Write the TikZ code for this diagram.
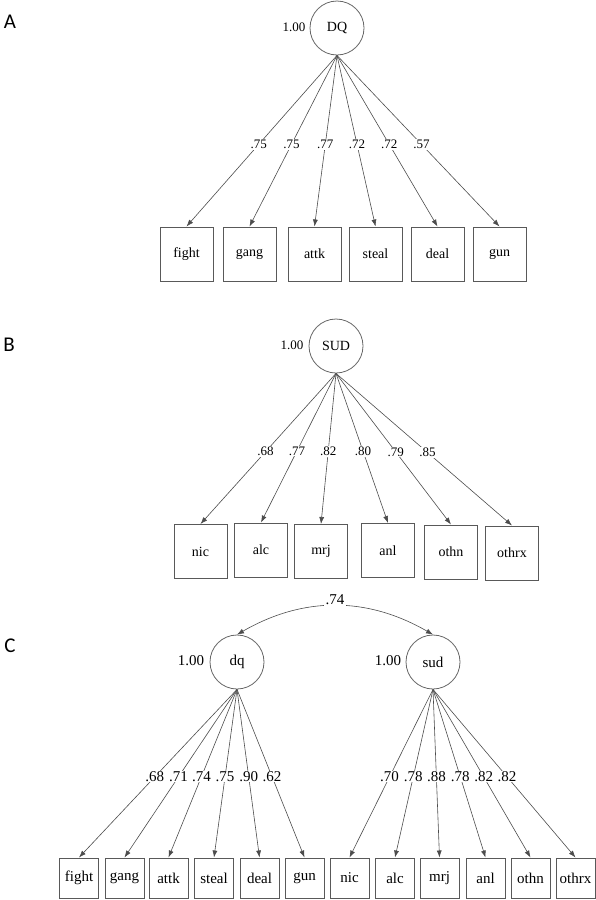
\documentclass[tikz,border=0pt]{standalone}
\usepackage{fontspec}
\setmainfont{Liberation Serif}
\newfontfamily\panelfont{Carlito}
\usetikzlibrary{arrows.meta}

\begin{document}
\begin{tikzpicture}[x=1pt,y=-1pt,
    latent/.style={circle,draw=black!60,line width=0.8pt,minimum size=54pt,inner sep=0pt,font=\fontsize{14}{16}\selectfont},
    obs/.style={draw=black!65,line width=1pt,minimum width=53pt,minimum height=54pt,inner sep=0pt,font=\fontsize{14}{16}\selectfont},
    obsc/.style={obs,minimum width=39pt,minimum height=40pt,font=\fontsize{15}{17}\selectfont},
    load/.style={draw=black!70,line width=0.6pt,-{Latex[length=7pt,width=5pt]}},
    wt/.style={pos=0.52,fill=white,inner sep=1pt,font=\fontsize{13}{15}\selectfont},
    wtc/.style={wt,inner sep=0.5pt,font=\fontsize{15}{17}\selectfont},
    panel/.style={font=\panelfont\fontsize{21}{23}\selectfont}]
  \useasboundingbox (0,0) rectangle (596,900);

  % A
  \node[panel] (pa) at (10,22) {A};
  \node[latent] (DQ) at (337,28) {DQ};
  \node[font=\fontsize{13}{15}\selectfont] (DQvar) at (294,27) {1.00};

  \node[obs] (afight) at (186.5,254) {fight};
  \node[obs] (agang) at (249.5,254) {gang};
  \node[obs] (aattk) at (314.5,254) {attk};
  \node[obs] (asteal) at (375.5,254) {steal};
  \node[obs] (adeal) at (437.5,254) {deal};
  \node[obs] (agun) at (499.5,254) {gun};

  \draw[load] (DQ.south) -- node[wt] {.75} (afight.north);
  \draw[load] (DQ.south) -- node[wt] {.75} (agang.north);
  \draw[load] (DQ.south) -- node[wt] {.77} (aattk.north);
  \draw[load] (DQ.south) -- node[wt] {.72} (asteal.north);
  \draw[load] (DQ.south) -- node[wt] {.72} (adeal.north);
  \draw[load] (DQ.south) -- node[wt] {.57} (agun.north);

  % B
  \node[panel] (pb) at (9,345) {B};
  \node[latent] (SUD) at (336,346) {SUD};
  \node[font=\fontsize{13}{15}\selectfont] (SUDvar) at (292,345) {1.00};

  \node[obs] (bnic) at (200.5,551.5) {nic};
  \node[obs] (balc) at (261,550) {alc};
  \node[obs] (bmrj) at (321,551.5) {mrj};
  \node[obs] (banl) at (388,550.5) {anl};
  \node[obs] (bothn) at (451,552) {othn};
  \node[obs] (bothrx) at (512,553) {othrx};

  \draw[load] (SUD.south) -- node[wt] {.68} (bnic.north);
  \draw[load] (SUD.south) -- node[wt] {.77} (balc.north);
  \draw[load] (SUD.south) -- node[wt] {.82} (bmrj.north);
  \draw[load] (SUD.south) -- node[wt] {.80} (banl.north);
  \draw[load] (SUD.south) -- node[wt] {.79} (bothn.north);
  \draw[load] (SUD.south) -- node[wt] {.85} (bothrx.north);

  % C
  \node[panel] (pc) at (10,646) {C};
  \node[latent,font=\fontsize{15}{17}\selectfont] (dq) at (237,662) {dq};
  \node[latent,font=\fontsize{15}{17}\selectfont] (sud) at (433,662) {sud};
  \node[font=\fontsize{15}{17}\selectfont] (dqvar) at (191,661) {1.00};
  \node[font=\fontsize{15}{17}\selectfont] (sudvar) at (388,661) {1.00};

  \draw[load,{Latex[length=7pt,width=5pt]}-{Latex[length=7pt,width=5pt]}] (dq.north) to[bend left=30]
    node[midway,fill=white,inner sep=1.5pt,yshift=6pt,font=\fontsize{15}{17}\selectfont] {.74} (sud.north);

  \node[obsc] (cfight) at (79,878) {fight};
  \node[obsc] (cgang) at (124.5,878) {gang};
  \node[obsc] (cattk) at (168.5,878) {attk};
  \node[obsc] (csteal) at (214,878) {steal};
  \node[obsc] (cdeal) at (259.5,878) {deal};
  \node[obsc] (cgun) at (304.5,878) {gun};
  \node[obsc] (cnic) at (349.5,878) {nic};
  \node[obsc] (calc) at (395,878) {alc};
  \node[obsc] (cmrj) at (439.5,878) {mrj};
  \node[obsc] (canl) at (485.5,878) {anl};
  \node[obsc] (cothn) at (530.5,878) {othn};
  \node[obsc] (cothrx) at (575.5,878) {othrx};

  \draw[load] (dq.south) -- node[wtc] {.68} (cfight.north);
  \draw[load] (dq.south) -- node[wtc] {.71} (cgang.north);
  \draw[load] (dq.south) -- node[wtc] {.74} (cattk.north);
  \draw[load] (dq.south) -- node[wtc] {.75} (csteal.north);
  \draw[load] (dq.south) -- node[wtc] {.90} (cdeal.north);
  \draw[load] (dq.south) -- node[wtc] {.62} (cgun.north);

  \draw[load] (sud.south) -- node[wtc] {.70} (cnic.north);
  \draw[load] (sud.south) -- node[wtc] {.78} (calc.north);
  \draw[load] (sud.south) -- node[wtc] {.88} (cmrj.north);
  \draw[load] (sud.south) -- node[wtc] {.78} (canl.north);
  \draw[load] (sud.south) -- node[wtc] {.82} (cothn.north);
  \draw[load] (sud.south) -- node[wtc] {.82} (cothrx.north);

\end{tikzpicture}
\end{document}
